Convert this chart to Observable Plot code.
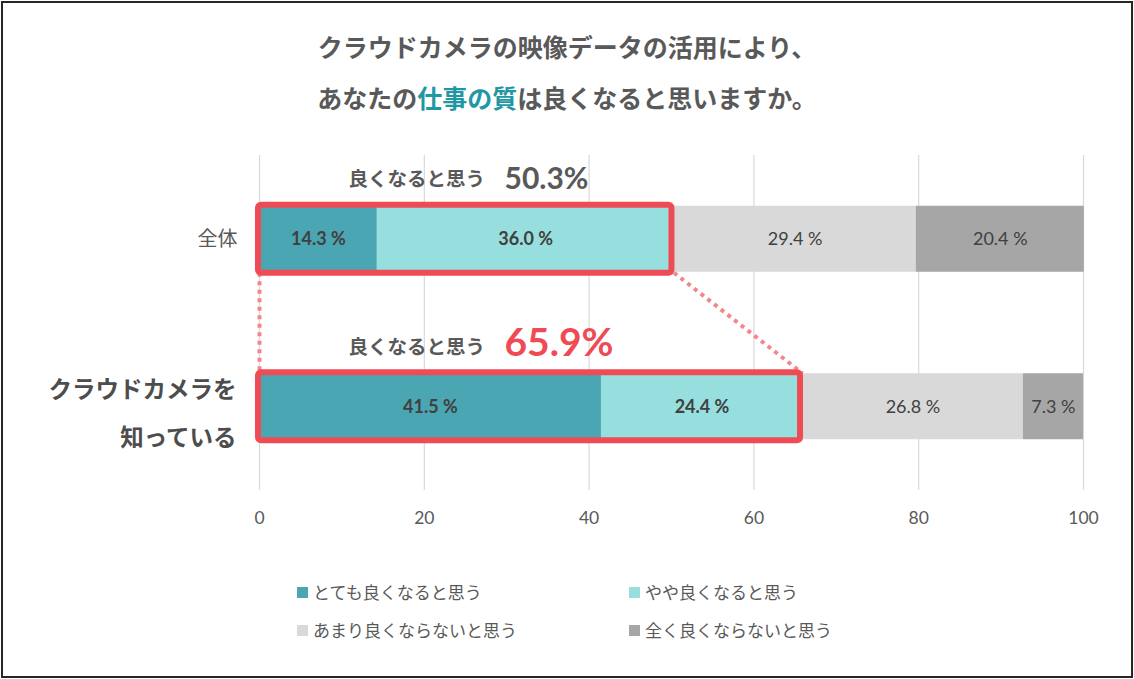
<!DOCTYPE html>
<html>
<head>
<meta charset="utf-8">
<script src="https://cdn.jsdelivr.net/npm/d3@7"></script>
<script src="https://cdn.jsdelivr.net/npm/@observablehq/plot@0.6"></script>
<style>
  html, body { margin: 0; padding: 0; background: #fff; }
  #wrap { position: relative; width: 1134px; height: 679px; overflow: hidden; font-family: "Noto Sans CJK JP", sans-serif; }
  #frame { position: absolute; left: 1px; top: 1px; width: 1128px; height: 673px; border: 2px solid #262626; }
  .title { position: absolute; left: 0; width: 1134px; text-align: center; font-weight: bold; font-size: 25px; color: #595959; line-height: 1; }
  .title .hl { color: #1f98a3; }
  #chart { position: absolute; left: 0; top: 140px; }
  .leg { position: absolute; font-size: 17px; color: #595959; line-height: 1; white-space: nowrap; }
  .leg i { display: inline-block; width: 11px; height: 11px; margin-right: 5px; vertical-align: 1px; }
</style>
</head>
<body>
<div id="wrap">
  <div id="frame"></div>
  <div class="title" style="top:34px">クラウドカメラの映像データの活用により、</div>
  <div class="title" style="top:85px">あなたの<span class="hl">仕事の質</span>は良くなると思いますか。</div>
  <div id="chart"></div>
  <div id="legend"></div>
</div>
<script>
// ---- data ----
const rows = ["全体", "クラウドカメラを知っている"];
const rowLabels = ["全体", "クラウドカメラを\n知っている"];
const categories = ["とても良くなると思う", "やや良くなると思う", "あまり良くならないと思う", "全く良くならないと思う"];
const overallValues = [14.3, 36.0, 29.4, 20.4];
const awareValues = [41.5, 24.4, 26.8, 7.3];
const seriesByRow = [overallValues, awareValues];
const colors = ["#4ba6b4", "#97dfdf", "#d9d9d9", "#a6a6a6"];
const xTicks = [0, 20, 40, 60, 80, 100];
const summaryLabel = "良くなると思う";

// ---- derived tables ----
const half = 0.197;
const segs = [];
seriesByRow.forEach((vals, i) => {
  let acc = 0;
  vals.forEach((v, k) => {
    segs.push({row: rows[i], i, k, cat: categories[k], value: v, x1: acc, x2: acc + v});
    acc += v;
  });
});
const totals = seriesByRow.map((vals, i) => ({i, pos: Math.round((vals[0] + vals[1]) * 10) / 10}));
const links = [
  {x1: 0, x2: 0, y1: 0, y2: 1},
  {x1: totals[0].pos, x2: totals[1].pos, y1: 0, y2: 1}
];
const red = "#ef4b55";
const jp = "Lato, 'Noto Sans CJK JP', sans-serif";

const chart = Plot.plot({
  width: 1134,
  height: 400,
  marginLeft: 259,
  marginRight: 51,
  marginTop: 15,
  marginBottom: 50,
  style: {fontFamily: jp, fontSize: "17.5px", color: "#595959", background: "transparent"},
  x: {domain: [0, 100], ticks: xTicks, tickSize: 0, tickPadding: 21, label: null},
  y: {domain: [-0.5, 1.5], reverse: true, axis: null},
  marks: [
    Plot.ruleX(xTicks, {x: d => d, stroke: "#d9d9d9", strokeWidth: 1.2}),
    Plot.rect(segs, {x1: "x1", x2: "x2", y1: d => d.i - half, y2: d => d.i + half, fill: d => colors[d.k]}),
    Plot.link(links, {x1: "x1", x2: "x2", y1: d => d.y1 + 0.2, y2: d => d.y2 - 0.2, stroke: "#f3868c", strokeWidth: 4, strokeDasharray: "4,4.5"}),
    Plot.rect(totals, {x1: d => 0, x2: "pos", y1: d => d.i - 0.203, y2: d => d.i + 0.203, fill: "none", stroke: red, strokeWidth: 6, rx: 3, insetLeft: -1, insetRight: 2}),
    Plot.text(segs.filter(d => d.k < 2), {x: d => (d.x1 + d.x2) / 2, y: "i", text: d => d.value.toFixed(1) + " %", fontWeight: "bold", fontSize: 18, fill: "#404040"}),
    Plot.text(segs.filter(d => d.k >= 2), {x: d => (d.x1 + d.x2) / 2, y: "i", text: d => d.value.toFixed(1) + " %", fontSize: 18, fill: "#404040"}),
    // row labels
    Plot.text([0], {x: d => 0, y: d => d, text: d => rowLabels[d], textAnchor: "end", dx: -22, fontSize: 20, fill: "#595959"}),
    Plot.text([1], {x: d => 0, y: d => d, text: d => rowLabels[d], textAnchor: "end", dx: -23, fontSize: 23.5, fontWeight: "bold", lineHeight: 2.05, fill: "#4d4d4d"}),
    // summaries
    Plot.text(totals, {x: d => 0, y: d => d.i - 0.355, text: d => summaryLabel, textAnchor: "start", dx: 89, fontSize: 19.5, fontWeight: "bold", fill: "#595959"}),
    Plot.text(totals.filter(d => d.i === 0), {x: d => 0, y: d => d.i - 0.36, text: d => d.pos.toFixed(1) + "%", textAnchor: "start", dx: 245, fontSize: 30, fontWeight: "bold", fill: "#595959"}),
    Plot.text(totals.filter(d => d.i === 1), {x: d => 0, y: d => d.i - 0.375, text: d => d.pos.toFixed(1) + "%", textAnchor: "start", dx: 245, fontSize: 39, fontWeight: "bold", fill: red})
  ]
});
document.getElementById("chart").appendChild(chart);

// legend
const legPos = [[297, 583], [629, 583], [297, 621], [629, 621]];
const legend = document.getElementById("legend");
categories.forEach((c, k) => {
  const el = document.createElement("div");
  el.className = "leg";
  el.style.left = legPos[k][0] + "px";
  el.style.top = legPos[k][1] + "px";
  el.innerHTML = `<i style="background:${colors[k]}"></i>${c}`;
  legend.appendChild(el);
});
</script>
</body>
</html>
